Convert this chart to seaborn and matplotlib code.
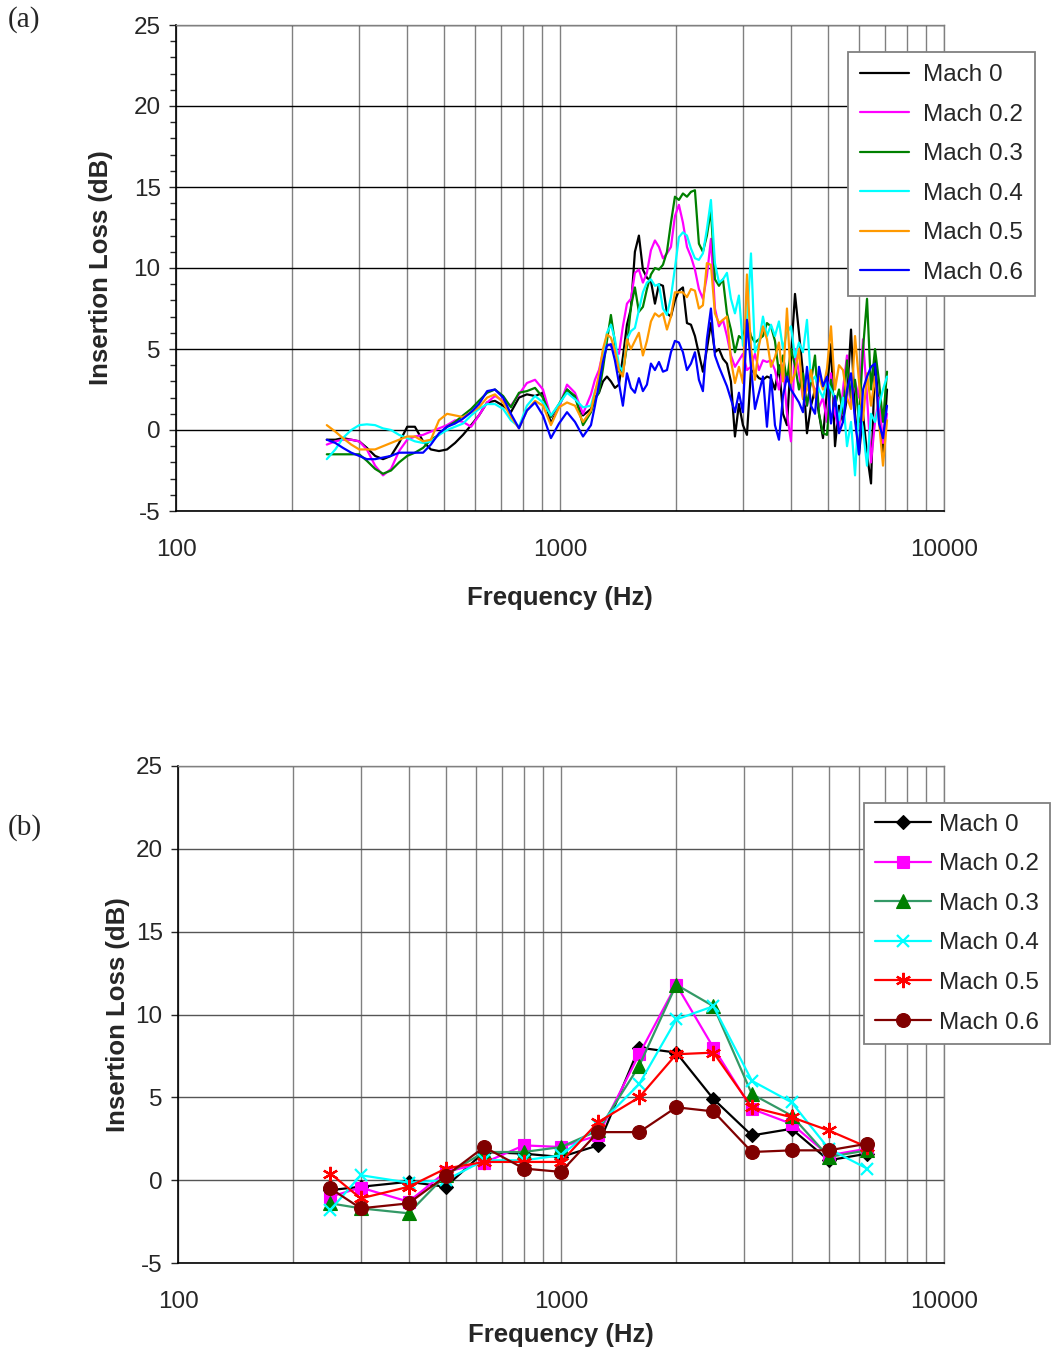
import numpy as np
import pandas as pd
import matplotlib
matplotlib.use("Agg")
import matplotlib.pyplot as plt
import seaborn as sns
from matplotlib.ticker import LogLocator, MultipleLocator, NullFormatter

sns.set_style("white")
plt.rcParams["font.family"] = ["Liberation Sans", "DejaVu Sans"]
plt.rcParams["axes.unicode_minus"] = False

# ---------------- Panel (a) data: narrowband insertion loss ----------------
freq_a = [247, 260, 272, 286, 300, 314, 330, 346, 363, 381, 400, 419, 440, 461, 484,
          508, 533, 559, 587, 615, 646, 677, 711, 745, 782, 820, 861, 903, 947, 994,
          1043, 1094, 1148, 1204,
          1233, 1263, 1294, 1325, 1357, 1390, 1424, 1458, 1494, 1530,
          1567, 1605, 1644, 1684, 1725, 1767, 1810, 1854, 1899, 1945,
          1992, 2040, 2090, 2141, 2193, 2246, 2300, 2356, 2413, 2472,
          2532, 2594, 2657, 2721, 2787, 2855, 2924, 2995, 3068, 3143,
          3219, 3297, 3377, 3459, 3543, 3629, 3717, 3808, 3900, 3995,
          4092, 4191, 4293, 4397, 4504, 4614, 4726, 4840, 4958, 5078,
          5202, 5328, 5457, 5590, 5726, 5865, 6007, 6153, 6303, 6456,
          6612, 6773, 6937, 7106]

mach0_a = [-0.6, -0.6, -0.5, -0.6, -0.7, -1.1, -1.6, -1.8, -1.6, -0.8, 0.2, 0.2, -0.7, -1.2, -1.3,
           -1.2, -0.8, -0.3, 0.3, 0.9, 1.7, 1.8, 1.5, 1.1, 2.0, 2.2, 2.1, 2.3, 0.4, 1.5,
           2.5, 2.0, 0.9, 1.3,
           2.0, 2.3, 3.0, 3.3, 3.0, 2.6, 2.8, 4.5, 6.5, 7.5, 11.0, 12.0, 9.9, 9.4, 9.2, 7.8,
           9.0, 8.9, 7.2, 7.0, 8.0, 8.6,
           8.8, 6.6, 6.5, 5.8, 4.7, 3.6, 5.0, 6.6, 4.8, 5.0, 4.4, 4.1, 3.0, -0.4, 1.6, 0.3,
           -0.3, 3.7, 3.5, 3.2, 3.1, 3.3,
           3.2, 2.5, 4.0, 1.0, 0.3, 4.5, 8.4, 6.0, 3.5, -0.2, 1.5, 2.5, 1.0, -0.5, 2.5, 5.3,
           -1.0, 1.5, 0.5, 2.0, 6.2, 1.0, -1.5, 1.0, -1.5, -3.3, 4.5, 1.0, -1.4, 2.5]

mach02_a = [-0.9, -0.7, -0.6, -0.6, -0.7, -1.2, -2.2, -2.8, -2.4, -1.3, -0.6, -0.4, -0.3, -0.1, 0.1,
            0.3, 0.6, 0.5, 0.2, 0.9, 1.7, 2.1, 1.8, 1.5, 2.2, 2.9, 3.1, 2.5, 0.8, 1.4,
            2.8, 2.3, 1.0, 2.2,
            3.1, 3.7, 4.8, 5.3, 5.2, 4.8, 4.7, 6.4, 7.8, 8.1, 9.7, 9.9, 9.1, 9.7, 11.1, 11.7,
            11.3, 10.6, 10.9, 11.3, 13.2, 13.9,
            12.8, 11.3, 10.7, 9.9, 8.7, 8.1, 9.5, 11.8, 7.5, 6.4, 6.8, 5.8, 4.6, 3.9, 4.3, 4.7,
            3.7, 3.9, 4.7, 3.7, 4.3, 4.2,
            4.3, 3.7, 2.5, 4.0, 1.0, -0.7, 5.0, 3.5, 2.0, 1.5, 3.0, 2.5, 1.4, 2.0, 0.5, 3.5,
            1.0, 0.0, 2.5, 4.6, 1.5, 3.0, 2.0, 5.6, 2.1, -2.0, 0.5, 2.0, -0.8, 1.0]

mach03_a = [-1.5, -1.5, -1.5, -1.5, -1.5, -1.9, -2.4, -2.7, -2.5, -2.0, -1.6, -1.4, -1.1, -0.6, -0.3,
            0.2, 0.5, 0.9, 1.3, 1.8, 2.3, 2.5, 2.1, 1.4, 2.3, 2.4, 2.6, 2.0, 0.8, 1.6,
            2.5, 2.1, 0.3, 1.1,
            1.9, 2.3, 3.8, 5.5, 7.1, 5.4, 3.6, 3.5, 5.2, 7.6, 8.8, 7.3, 7.6, 8.7, 9.6, 10.0,
            9.9, 10.2, 11.0, 12.8, 14.4, 14.2,
            14.6, 14.4, 14.7, 14.8, 11.5, 11.0, 12.0, 13.6, 9.3, 8.9, 9.3, 7.2, 6.2, 4.8, 5.8, 5.6,
            6.8, 5.8, 5.4, 5.6, 5.8, 6.6,
            6.4, 5.5, 3.5, 4.6, 3.0, 5.0, 4.0, 2.5, 3.5, 1.5, 3.0, 4.6, 1.0, -0.2, -0.3, 3.1,
            1.5, 2.5, 1.0, 4.3, 2.0, 3.1, 0.5, 5.0, 8.1, 2.5, 5.0, 3.0, 0.5, 3.6]

mach04_a = [-1.8, -1.2, -0.5, 0.0, 0.3, 0.35, 0.3, 0.1, 0.0, -0.3, -0.5, -0.7, -0.8, -0.7, -0.3,
            0.0, 0.2, 0.4, 0.9, 1.3, 1.6, 1.6, 1.3, 0.6, 0.2, 1.5, 2.1, 1.7, 0.9, 1.6,
            2.3, 1.9, 1.4, 1.5,
            2.4, 3.0, 4.5, 6.0, 6.5, 5.6, 4.0, 3.6, 5.6, 6.1, 6.3, 7.4, 8.5, 9.1, 9.3, 8.9,
            9.0, 7.5, 7.1, 8.2, 10.0, 11.9,
            12.2, 12.0, 11.2, 10.6, 10.5, 10.9, 12.4, 14.2, 10.3, 9.1, 9.3, 9.7, 8.1, 7.2, 8.3, 5.2,
            6.6, 10.9, 4.8, 5.4, 7.0, 5.8,
            6.5, 5.8, 6.7, 5.0, 6.0, 6.4, 4.5, 5.4, 4.8, 6.8, 3.0, 3.3, 2.5, 2.0, 3.0, 2.5,
            2.0, 0.6, 2.0, -1.0, 0.5, -2.8, 1.5, 0.0, -2.2, 1.0, 0.5, 1.5, 2.5, 3.3]

mach05_a = [0.3, -0.1, -0.5, -0.9, -1.2, -1.2, -1.2, -1.0, -0.8, -0.6, -0.4, -0.4, -0.7, -0.6, 0.6,
            1.0, 0.9, 0.8, 1.1, 1.4, 2.0, 2.2, 1.7, 0.8, 0.1, 1.2, 1.8, 1.5, 0.3, 1.4,
            1.7, 1.5, 0.5, 1.2,
            2.3, 3.4, 5.0, 5.9, 5.7, 4.9, 3.7, 3.3, 5.6, 5.0, 5.5, 6.0, 4.6, 5.5, 6.7, 7.2,
            7.0, 7.2, 6.2, 7.0, 8.5, 8.5,
            8.5, 8.2, 8.7, 8.6, 7.5, 7.7, 10.3, 10.2, 7.2, 6.6, 6.8, 7.0, 4.3, 2.9, 3.9, 2.9,
            9.6, 5.0, 3.1, 5.2, 6.4, 5.6,
            3.9, 4.5, 5.4, 3.0, 7.5, 2.9, 3.5, 5.0, 1.9, 2.5, 3.7, 2.0, 3.3, 2.5, 3.8, 6.4,
            2.5, 4.0, 3.7, 2.0, 1.3, 5.8, 3.0, 0.6, 3.5, 1.5, 3.3, 0.5, -2.2, 0.6]

mach06_a = [-0.6, -0.8, -1.1, -1.4, -1.6, -1.8, -1.8, -1.7, -1.6, -1.4, -1.4, -1.4, -1.4, -0.9, -0.2,
            0.2, 0.4, 0.7, 1.1, 1.6, 2.4, 2.5, 2.0, 1.0, 0.1, 1.2, 1.7, 0.9, -0.5, 0.4,
            1.1, 0.5, -0.4, 0.3,
            1.5, 2.8, 4.2, 5.2, 5.3, 4.3, 2.9, 1.5, 3.5, 2.6, 2.3, 3.2, 2.4, 2.8, 4.1, 3.7,
            4.2, 3.6, 3.7, 4.8, 5.5, 5.4,
            4.8, 3.7, 4.1, 4.8, 3.1, 2.4, 5.6, 7.5, 4.6, 3.9, 3.3, 2.7, 1.9, 1.1, 2.3, 1.1,
            6.8, 3.9, 1.3, 2.3, 3.3, 0.2,
            3.4, 0.3, -0.6, 2.1, 3.3, 2.5, 2.1, 1.7, 1.1, 3.9, 1.5, 1.0, 3.9, 2.7, 3.3, 0.4,
            2.1, -0.2, 0.5, 2.5, 3.5, 0.6, -1.5, 2.5, 3.3, 3.9, 4.1, 0.4, -0.5, 1.5]

series_names = ["Mach 0", "Mach 0.2", "Mach 0.3", "Mach 0.4", "Mach 0.5", "Mach 0.6"]
values_a = [mach0_a, mach02_a, mach03_a, mach04_a, mach05_a, mach06_a]
colors_a = ["#000000", "#FF00FF", "#008000", "#00FFFF", "#FF9900", "#0000FF"]

# ---------------- Panel (b) data: 1/3-octave insertion loss ----------------
freq_b = [250, 300, 400, 500, 630, 800, 1000, 1250, 1600, 2000, 2500, 3150, 4000, 5000, 6300]
mach0_b = [-0.6, -0.4, -0.1, -0.4, 1.7, 1.6, 1.4, 2.1, 8.0, 7.7, 4.9, 2.7, 3.1, 1.2, 1.6]
mach02_b = [-1.0, -0.45, -1.3, 0.5, 1.05, 2.1, 2.0, 2.7, 7.6, 11.8, 8.0, 4.3, 3.4, 1.5, 1.9]
mach03_b = [-1.4, -1.7, -2.0, 0.3, 1.7, 1.7, 2.0, 3.0, 6.9, 11.8, 10.5, 5.2, 3.9, 1.4, 1.8]
mach04_b = [-1.8, 0.3, -0.15, 0.0, 1.2, 1.2, 1.5, 3.3, 5.8, 9.7, 10.5, 6.0, 4.7, 1.9, 0.7]
mach05_b = [0.4, -1.1, -0.4, 0.7, 1.1, 1.1, 1.1, 3.5, 5.0, 7.6, 7.7, 4.4, 3.8, 3.0, 2.0]
mach06_b = [-0.5, -1.7, -1.4, 0.25, 2.0, 0.7, 0.5, 2.9, 2.9, 4.4, 4.15, 1.7, 1.8, 1.8, 2.2]
values_b = [mach0_b, mach02_b, mach03_b, mach04_b, mach05_b, mach06_b]
line_colors_b = ["#000000", "#FF00FF", "#339966", "#00FFFF", "#FF0000", "#800000"]
marker_colors_b = ["#000000", "#FF00FF", "#008000", "#00FFFF", "#FF0000", "#800000"]
markers_b = ["D", "s", "^", "x", (6, 2, 0), "o"]
marker_sizes_b = [7, 9, 9.5, 9, 11, 10]

# ---------------- Figure ----------------
W, H = 1061, 1351
FS = 17.5
fig = plt.figure(figsize=(W / 100, H / 100), dpi=100)
ax1 = fig.add_axes([176 / W, 1 - 511 / H, 768 / W, 486 / H])
ax2 = fig.add_axes([178 / W, 1 - 1263 / H, 766 / W, 497 / H])

df_a = pd.concat(
    [pd.DataFrame({"Frequency": freq_a, "IL": v, "Series": n}) for n, v in zip(series_names, values_a)],
    ignore_index=True)
sns.lineplot(data=df_a, x="Frequency", y="IL", hue="Series", palette=dict(zip(series_names, colors_a)),
             estimator=None, linewidth=1.6, legend=False, ax=ax1)

for n, v, lc, mc, mk, ms in zip(series_names, values_b, line_colors_b, marker_colors_b, markers_b, marker_sizes_b):
    filled = mk not in ("x", (6, 2, 0))
    sns.lineplot(x=freq_b, y=v, ax=ax2, color=lc, linewidth=1.6, marker=mk, markersize=ms,
                 markerfacecolor=mc, markeredgecolor=mc,
                 markeredgewidth=(0.8 if filled else 1.6), legend=False)

for ax, hcol in ((ax1, "#000000"), (ax2, "#555555")):
    ax.set_xscale("log")
    ax.set_xlim(100, 10000)
    ax.set_ylim(-5, 25)
    ax.set_xticks([100, 1000, 10000])
    ax.set_xticklabels(["100", "1000", "10000"])
    ax.xaxis.set_minor_locator(LogLocator(base=10, subs=np.arange(2, 10)))
    ax.xaxis.set_minor_formatter(NullFormatter())
    ax.set_yticks(np.arange(-5, 26, 5))
    ax.grid(False)
    ax.grid(True, which="both", axis="x", color="#808080", linewidth=1.0)
    ax.grid(True, which="major", axis="y", color=hcol, linewidth=1.0)
    ax.set_axisbelow(True)
    ax.tick_params(axis="x", which="both", length=0, pad=20, labelsize=FS)
    ax.tick_params(axis="y", which="major", length=5, width=1, direction="out", pad=6,
                   labelsize=FS, left=True)
    for s in ("left", "bottom"):
        ax.spines[s].set_color("#000000")
        ax.spines[s].set_linewidth(1.2)
    for s in ("top", "right"):
        ax.spines[s].set_color("#808080")
        ax.spines[s].set_linewidth(1.0)
    ax.set_xlabel("Frequency (Hz)", fontsize=18.5, fontweight="bold")
    ax.set_ylabel("Insertion Loss (dB)", fontsize=18.5, fontweight="bold")

ax1.yaxis.set_minor_locator(MultipleLocator(1))
ax1.tick_params(axis="y", which="minor", length=4, width=1, direction="out", left=True)

ax1.xaxis.set_label_coords(0.5, -0.155)
ax2.xaxis.set_label_coords(0.5, -0.121)
ax1.yaxis.set_label_coords(-0.082, 0.5)
ax2.yaxis.set_label_coords(-0.063, 0.5)

leg_kw = dict(loc="upper left", bbox_transform=fig.transFigure, fontsize=FS, frameon=True,
              fancybox=False, framealpha=1, edgecolor="#808080", borderaxespad=0,
              labelspacing=0.72)
leg1 = ax1.legend(ax1.lines[:6], series_names, bbox_to_anchor=(848 / W, 1 - 52 / H),
                  handlelength=2.0, handletextpad=0.6, borderpad=0.5, **leg_kw)
leg2 = ax2.legend(ax2.lines[:6], series_names, bbox_to_anchor=(864 / W, 1 - 803 / H),
                  handlelength=2.3, handletextpad=0.35, borderpad=0.45, numpoints=1, **leg_kw)
for lg in (leg1, leg2):
    lg.get_frame().set_linewidth(1.3)

fig.text(8 / W, 1 - 20 / H, "(a)", family=["Liberation Serif", "DejaVu Serif"], fontsize=21, va="center")
fig.text(8 / W, 1 - 828 / H, "(b)", family=["Liberation Serif", "DejaVu Serif"], fontsize=21, va="center")

fig.savefig("out.png", dpi=100)
